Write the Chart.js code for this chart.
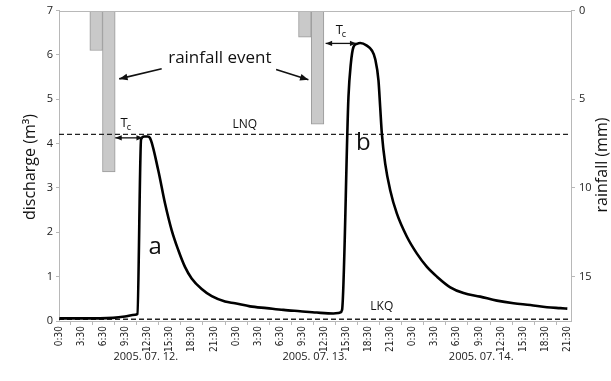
<!DOCTYPE html>
<html><head><meta charset="utf-8">
<script src="https://cdn.jsdelivr.net/npm/chart.js@4/dist/chart.umd.min.js"></script>
<style>html,body{margin:0;padding:0;background:#fff}#wrap{width:611px;height:381px}</style>
</head><body><div id="wrap"><canvas id="c" width="611" height="381"></canvas></div>
<script>
// ---- data ----
const tickLabels = ['0:30','3:30','6:30','9:30','12:30','15:30','18:30','21:30',
                    '0:30','3:30','6:30','9:30','12:30','15:30','18:30','21:30',
                    '0:30','3:30','6:30','9:30','12:30','15:30','18:30','21:30'];
const tickHours = [0.5,3.5,6.5,9.5,12.5,15.5,18.5,21.5,24.5,27.5,30.5,33.5,36.5,39.5,42.5,45.5,
                   48.5,51.5,54.5,57.5,60.5,63.5,66.5,69.5];
const dateLabels = ['2005. 07. 12.','2005. 07. 13.','2005. 07. 14.'];
const dateHours = [12.25, 35.2, 57.8];
const leftTicks = [0,1,2,3,4,5,6,7];
const rightTicks = [0,5,10,15];

const dischargeHours = [0.5,3.0,6.0,7.8,9.4,10.8,11.1,11.6,12.0,12.5,12.8,13.93,14.84,15.75,16.65,17.56,18.47,
  19.83,21.2,23.0,24.36,26.4,28.67,30.93,33.2,35.47,37.73,38.4,38.64,38.9,39.77,40.09,40.45,40.91,41.36,
  42.27,42.95,43.4,43.85,44.08,44.31,44.76,45.44,46.35,47.71,49.07,50.43,51.79,53.6,55.4,57.67,59.94,
  62.2,64.47,66.74,68.55,69.5];
const dischargeValues = [0.06,0.06,0.06,0.07,0.10,0.14,0.16,4.10,4.16,4.16,4.13,3.40,2.66,2.05,1.60,1.22,0.96,
  0.72,0.56,0.44,0.40,0.33,0.29,0.25,0.22,0.19,0.17,0.18,0.19,0.25,5.05,5.80,6.18,6.25,6.27,
  6.21,6.10,5.91,5.42,4.82,4.22,3.55,2.95,2.42,1.90,1.52,1.22,1.00,0.76,0.63,0.55,0.46,
  0.40,0.36,0.31,0.29,0.28];
const rainHours = [5.5, 7.22, 33.85, 35.57];
const rainValues = [2.25, 9.1, 1.5, 6.4];
const lnqValue = 4.21;
const lkqValue = 0.04;

// annotations in data units (hours, discharge)
const eventText = {h:22.3, q:5.92, text:'rainfall event'};
const eventArrows = [[14.4,5.69,8.63,5.46],[29.94,5.67,34.33,5.44]];
const tcArrows = [[8.09,4.13,11.85,4.13],[36.67,6.26,40.85,6.26]];
const tcTexts = [[9.64,4.45],[38.87,6.55]];
const peakLabels = [['a',13.5,1.67],['b',41.8,4.0]];
const lineLabels = [['LNQ',25.7,4.43],['LKQ',44.3,0.32]];

const X_MIN = 0.45, X_MAX = 70.0, RAIN_MAX = 17.5;
const FONT = "'Open Sans', 'Liberation Sans', sans-serif";
const NARROW = "'Liberation Sans Narrow', 'DejaVu Sans Condensed', 'Open Sans', sans-serif";

const xs = [X_MIN, X_MAX];
const curve = dischargeHours.map((h,i)=>({x:h, y:dischargeValues[i]}));
const rain = rainHours.map((h,i)=>({x:h, y:rainValues[i]}));

function arrowHead(ctx, x1,y1,x2,y2, size){
  const ang = Math.atan2(y2-y1, x2-x1);
  ctx.beginPath();
  ctx.moveTo(x2,y2);
  ctx.lineTo(x2 - size*Math.cos(ang-0.38), y2 - size*Math.sin(ang-0.38));
  ctx.lineTo(x2 - size*Math.cos(ang+0.38), y2 - size*Math.sin(ang+0.38));
  ctx.closePath(); ctx.fill();
}

const annot = {
  id:'annot',
  afterDraw(chart){
    const {ctx, chartArea:a, scales:{x,y}} = chart;
    ctx.save();
    ctx.strokeStyle='#b8b8b8'; ctx.lineWidth=1;
    ctx.beginPath(); ctx.moveTo(a.left, Math.round(a.top)+0.5); ctx.lineTo(a.right, Math.round(a.top)+0.5); ctx.stroke();

    ctx.fillStyle='#111'; ctx.strokeStyle='#111';
    ctx.font = '17px '+FONT; ctx.textAlign='center'; ctx.textBaseline='middle';
    ctx.fillText(eventText.text, x.getPixelForValue(eventText.h), y.getPixelForValue(eventText.q));
    ctx.lineWidth=1.6;
    eventArrows.forEach(([h1,q1,h2,q2])=>{
      const x1=x.getPixelForValue(h1), y1=y.getPixelForValue(q1), x2=x.getPixelForValue(h2), y2=y.getPixelForValue(q2);
      ctx.beginPath(); ctx.moveTo(x1,y1); ctx.lineTo(x2,y2); ctx.stroke();
      arrowHead(ctx,x1,y1,x2,y2,9);
    });
    ctx.lineWidth=1.3;
    tcArrows.forEach(([h1,q1,h2,q2])=>{
      const x1=x.getPixelForValue(h1), y1=y.getPixelForValue(q1), x2=x.getPixelForValue(h2), y2=y.getPixelForValue(q2);
      ctx.beginPath(); ctx.moveTo(x1,y1); ctx.lineTo(x2,y2); ctx.stroke();
      arrowHead(ctx,x1,y1,x2,y2,7); arrowHead(ctx,x2,y2,x1,y1,7);
    });
    tcTexts.forEach(([h,q])=>{
      const px=x.getPixelForValue(h), py=y.getPixelForValue(q);
      ctx.textAlign='right'; ctx.font='13px '+FONT; ctx.fillText('T', px+1, py);
      ctx.textAlign='left'; ctx.font='9px '+FONT; ctx.fillText('c', px, py+4);
    });
    ctx.textAlign='center';
    ctx.font='24px '+FONT;
    peakLabels.forEach(([t,h,q])=>ctx.fillText(t, x.getPixelForValue(h), y.getPixelForValue(q)));
    ctx.font='12px '+FONT;
    lineLabels.forEach(([t,h,q])=>ctx.fillText(t, x.getPixelForValue(h), y.getPixelForValue(q)));

    ctx.fillStyle='#222'; ctx.font='11px '+FONT;
    dateLabels.forEach((t,i)=>ctx.fillText(t, x.getPixelForValue(dateHours[i]), a.bottom+36));

    ctx.font='16px '+FONT; ctx.fillStyle='#111';
    ctx.save(); ctx.translate(a.left-29, 167); ctx.rotate(-Math.PI/2); ctx.fillText('discharge (m\u00b3)',0,0); ctx.restore();
    ctx.save(); ctx.translate(a.right+31, 165); ctx.rotate(-Math.PI/2); ctx.fillText('rainfall (mm)',0,0); ctx.restore();
    ctx.restore();
  }
};

const gridOpts = {drawOnChartArea:false, drawTicks:true, tickLength:4, color:'#b8b8b8'};
new Chart(document.getElementById('c'), {
  type:'line',
  data:{datasets:[
    {label:'discharge', data:curve, borderColor:'#000', borderWidth:2.6, pointRadius:0, cubicInterpolationMode:'monotone', yAxisID:'y', order:1},
    {label:'LNQ', data:xs.map(v=>({x:v,y:lnqValue})), borderColor:'#222', borderWidth:1.3, borderDash:[5,3], pointRadius:0, yAxisID:'y', order:2},
    {label:'LKQ', data:xs.map(v=>({x:v,y:lkqValue})), borderColor:'#222', borderWidth:1.3, borderDash:[5,3], pointRadius:0, yAxisID:'y', order:2},
    {type:'bar', label:'rainfall', data:rain, backgroundColor:'#c9c9c9', borderColor:'#9a9a9a', borderWidth:1,
     barPercentage:1, categoryPercentage:1, yAxisID:'y2', order:5}
  ]},
  options:{
    responsive:false, animation:false, devicePixelRatio:1,
    layout:{padding:{top:10,left:0,right:0,bottom:0}},
    plugins:{legend:{display:false}, tooltip:{enabled:false}},
    scales:{
      x:{type:'linear', min:X_MIN, max:X_MAX, offset:false,
         afterFit:s=>{s.height=60;},
         afterBuildTicks:s=>{s.ticks=tickHours.map(v=>({value:v}));},
         grid:gridOpts, border:{color:'#b8b8b8'},
         ticks:{autoSkip:false, minRotation:90, maxRotation:90, padding:1, color:'#222',
                font:{family:NARROW, size:10},
                callback:(v,i)=>tickLabels[i]}},
      y:{position:'left', min:0, max:7,
         afterFit:s=>{s.width=59;},
         afterBuildTicks:s=>{s.ticks=leftTicks.map(v=>({value:v}));},
         grid:{...gridOpts, tickLength:3}, border:{color:'#b8b8b8'},
         ticks:{padding:3, color:'#222', font:{family:FONT, size:11}}},
      y2:{position:'right', min:0, max:RAIN_MAX, reverse:true,
         afterFit:s=>{s.width=40;},
         afterBuildTicks:s=>{s.ticks=rightTicks.map(v=>({value:v}));},
         grid:gridOpts, border:{color:'#b8b8b8'},
         ticks:{padding:4, color:'#222', font:{family:FONT, size:11}}}
    }
  },
  plugins:[annot]
});
</script></body></html>
